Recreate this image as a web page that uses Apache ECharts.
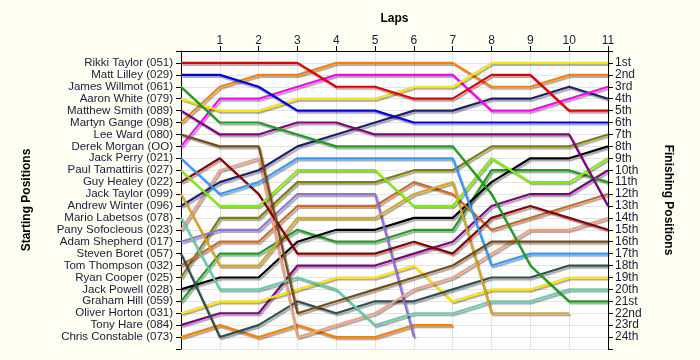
<!DOCTYPE html>
<html>
<head>
<meta charset="utf-8">
<script src="https://cdn.jsdelivr.net/npm/echarts@6/dist/echarts.min.js"></script>
<style>
html,body{margin:0;padding:0;background:#fffef3;}
#c{width:700px;height:360px;}
</style>
</head>
<body>
<div id="c"></div>
<script>
// Lap numbers (0 = start)
const laps = [0,1,2,3,4,5,6,7,8,9,10,11];
// Drivers in starting order
const drivers = [
  'Rikki Taylor (051)','Matt Lilley (029)','James Willmot (061)','Aaron White (079)',
  'Matthew Smith (089)','Martyn Gange (098)','Lee Ward (080)','Derek Morgan (OO)',
  'Jack Perry (021)','Paul Tamattiris (027)','Guy Healey (022)','Jack Taylor (099)',
  'Andrew Winter (096)','Mario Labetsos (078)','Pany Sofocleous (023)','Adam Shepherd (017)',
  'Steven Boret (057)','Tom Thompson (032)','Ryan Cooper (025)','Jack Powell (028)',
  'Graham Hill (059)','Oliver Horton (031)','Tony Hare (084)','Chris Constable (073)'
];
const finishLabels = ['1st','2nd','3rd','4th','5th','6th','7th','8th','9th','10th','11th','12th',
  '13th','14th','15th','16th','17th','18th','19th','20th','21st','22nd','23rd','24th'];
const colors = ['#e00000','#0000e0','#1e9e1e','#ffe400','#800080','#ff8000','#7a4a14','#ff00ff',
  '#3399ff','#80ee00','#8b0000','#daa520','#1e1e6e','#66cdaa','#f2a080','#9370db',
  '#2f4f4f','#d2691e','#808000','#000000','#1e9e1e','#ffe400','#800080','#ff8000'];
// Position of each driver after each lap (null = retired)
const p01 = [1,1,1,1,3,3,4,4,2,2,5,5];
const p02 = [2,2,3,5,5,5,6,6,6,6,6,6];
const p03 = [3,6,6,7,8,8,8,8,12,18,21,21];
const p04 = [4,5,5,4,4,4,3,3,1,1,1,1];
const p05 = [5,7,7,6,6,7,7,7,7,7,7,13];
const p06 = [6,3,2,2,1,1,1,1,3,3,2,2];
const p07 = [7,8,8,22,21,20,19,18,16,16,16,16];
const p08 = [8,4,4,3,2,2,2,2,5,5,4,3];
const p09 = [9,12,11,9,9,9,9,9,18,17,17,17];
const p10 = [10,13,13,10,10,10,13,13,9,11,11,9];
const p11 = [11,9,12,17,17,17,16,17,14,13,14,15];
const p12 = [12,18,18,14,14,14,12,11,22,22,22,null];
const p13 = [13,11,10,8,7,6,5,5,4,4,3,4];
const p14 = [14,20,20,19,20,23,22,22,21,21,20,20];
const p15 = [15,10,9,24,23,22,20,19,17,15,15,14];
const p16 = [16,15,15,12,12,12,24,null,null,null,null,null];
const p17 = [17,24,23,21,22,21,21,20,19,19,18,18];
const p18 = [18,16,16,13,13,13,11,12,15,14,13,12];
const p19 = [19,14,14,11,11,11,10,10,8,8,8,7];
const p20 = [20,19,19,16,15,15,14,14,11,9,9,8];
const p21 = [21,17,17,15,16,16,15,15,10,10,10,11];
const p22 = [22,21,21,20,19,19,18,21,20,20,19,19];
const p23 = [23,22,22,18,18,18,17,16,13,12,12,10];
const p24 = [24,23,24,23,24,24,23,23,null,null,null,null];
const positions = [p01,p02,p03,p04,p05,p06,p07,p08,p09,p10,p11,p12,p13,p14,p15,p16,p17,p18,p19,p20,p21,p22,p23,p24];

const FONT = 'Liberation Sans';
const txt = '#1a1a3a';
const series = positions.map((arr, i) => ({
  type: 'line',
  name: drivers[i],
  xAxisIndex: 0,
  yAxisIndex: 0,
  symbol: 'none',
  data: laps.map((l, k) => [l, arr[k]]).filter(d => d[1] !== null),
  lineStyle: {color: colors[i], width: 2.2, shadowColor: 'rgba(0,0,0,0.35)', shadowBlur: 1, shadowOffsetX: 1.5, shadowOffsetY: 2},
  itemStyle: {color: colors[i]},
  z: 10 + (24 - i)
}));

const chart = echarts.init(document.getElementById('c'), null, {renderer: 'canvas'});
const lapTicks = laps.filter(l => l > 0);
chart.setOption({
  backgroundColor: '#fffef3',
  animation: false,
  grid: {left: 181, right: 92, top: 51, bottom: 11, show: true, backgroundColor: '#ffffff', borderWidth: 0},
  xAxis: {
    type: 'value', position: 'top', min: 0, max: 11, interval: 1,
    name: 'Laps', nameLocation: 'middle', nameGap: 26,
    nameTextStyle: {fontFamily: FONT, fontWeight: 'bold', fontSize: 12, color: '#000'},
    axisLine: {show: true, lineStyle: {color: '#000', width: 1}},
    axisTick: {show: true, length: 5, lineStyle: {color: '#000'}, customValues: lapTicks},
    axisLabel: {fontFamily: FONT, fontSize: 12, color: txt, margin: 4, customValues: lapTicks},
    splitLine: {show: true, lineStyle: {color: '#e4e4e4', width: 1}}
  },
  yAxis: [{
    type: 'value', position: 'left', min: 0, max: 25, interval: 1, inverse: true,
    name: 'Starting Positions', nameLocation: 'middle', nameGap: 148, nameRotate: 90,
    nameTextStyle: {fontFamily: FONT, fontWeight: 'bold', fontSize: 12, color: '#000'},
    axisLine: {show: true, onZero: false, lineStyle: {color: '#000', width: 1}},
    axisTick: {show: true, length: 5, lineStyle: {color: '#000'}},
    axisLabel: {fontFamily: FONT, fontSize: 11.5, color: txt, margin: 8,
      formatter: v => (v >= 1 && v <= 24) ? drivers[v - 1] : ''},
    splitLine: {show: true, lineStyle: {color: '#e4e4e4', width: 1}}
  }, {
    type: 'value', position: 'right', min: 0, max: 25, interval: 1, inverse: true,
    name: 'Finishing Positions', nameLocation: 'middle', nameGap: 54, nameRotate: -90,
    nameTextStyle: {fontFamily: FONT, fontWeight: 'bold', fontSize: 12, color: '#000'},
    axisLine: {show: true, onZero: false, lineStyle: {color: '#000', width: 1}},
    axisTick: {show: true, length: 5, lineStyle: {color: '#000'}},
    axisLabel: {fontFamily: FONT, fontSize: 12, color: txt, margin: 7,
      formatter: v => (v >= 1 && v <= 24) ? finishLabels[v - 1] : ''},
    splitLine: {show: false}
  }],
  series: series
});
</script>
</body>
</html>
